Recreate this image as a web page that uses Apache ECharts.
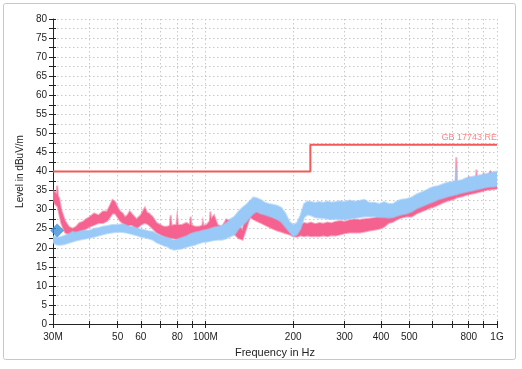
<!DOCTYPE html>
<html>
<head>
<meta charset="utf-8">
<script src="https://cdn.jsdelivr.net/npm/echarts@6/dist/echarts.min.js"></script>
<style>html,body{margin:0;padding:0;background:#fff;}#c{width:522px;height:369px;}</style>
</head>
<body>
<div id="c"></div>
<script>
// Frequency axis ticks (MHz)
const freqTicks = [30,40,50,60,70,80,90,100,200,300,400,500,600,700,800,900,1000];
const freqLabels = [30,50,60,80,100,200,300,400,500,800,1000];
// Limit line GB 17743 RE
const limitFreq = [30, 229, 229, 1000];
const limitLevel = [40, 40, 47, 47];
// Pink trace: [freq MHz, low dBuV/m, high dBuV/m]
const pinkTrace = [
[30,32.5,35],[30.5,31.5,34.5],[30.9,31,34],[31,31,36.3],[31.2,30.5,33.5],[31.5,29,33],[32,26.5,30],[33,24,27],[34,23.5,25.5],[35,23,25],
[36,23.5,25.5],[37,24,26.5],[38,24.5,26.8],[39,25,27.5],[40,25.5,28],[41.5,26,29],[43,26.5,28.5],[44.5,26.5,29.5],
[46,27,29.5],[47,28,31],[48,29,32.5],[49,29,32],[50,28,30.5],[51,27,29.5],[52,26.5,29],[53,26,28],[54,25.5,28.5],[55,26,29.5],[56,26,28.8],
[58,25,27.5],[60,26,28.5],[61,26.3,29.5],[62,26.5,30.5],[63,26.3,29.2],[64,26,29],[66,25,28],[68,24,26.5],[70,23.5,26],[72,23,25.5],
[74,22.5,25.5],[75.5,22.5,25.8],[76,22.5,28.5],[76.5,22.5,25.8],[78,22.5,26],[79.5,22.2,26],[80,22,28],[80.5,22.2,26],
[83,21.8,26],[86,21.6,26.5],[88.5,21.8,26],[89,21.8,28.2],[89.5,21.8,26],[92,21.8,25.5],
[95,21.6,25.5],[97.5,22,25.8],[98,22,26.8],[98.5,22,25.8],[101,22.5,26],[103.5,23,27],[104,23,29.5],[104.5,23,27.5],[107,24,28.5],[110,23.5,26],[114,22.9,25.5],[118,24,27.4],
[122,24.2,27],[126,23.5,26.5],[130,22.5,26],[134,22.1,24.5],[138,25,30],[142,28,32],[146,27.5,31],[150,27,29.5],
[155,26.5,29],[160,26,28.7],[165,25.5,28.5],[170,25,28],[176,24.5,27.5],[182,24.2,27],[188,23.8,26.8],[194,23.5,26],
[200,23,25.5],[206,22.9,25.5],[212,23.2,26],[218,23,26.5],[224,23.2,26.3],[230,23,26.6],[238,23.1,26.2],[246,23,26.5],
[254,23.2,26.3],[262,23,26.6],[270,23.3,26.4],[280,23.2,26.8],[290,23.5,27],[300,23.8,26.8],[312,24,27.2],[325,24,27.4],
[338,24,27.3],[350,24.2,27.5],[365,24.5,27.6],[380,24.7,27.8],[395,25,28.2],[410,25.5,28.7],[425,26.5,29.2],[440,26.8,29.5],
[455,27.5,30.2],[470,27.9,30.5],[490,28.2,31],[510,28.2,31.5],[530,29,32.3],[550,29.5,32.6],[570,30,33.5],[590,30.5,34],
[610,30.8,34.5],[630,31.3,35],[650,31.8,35.5],[670,32.2,35.5],[690,32.5,36],[710,32.8,37],[722,33,37.5],[725,33.2,43.7],
[728,33.2,37.5],[740,33.3,37],[760,33.5,36.5],[780,33.8,37],[800,34,38.5],[825,34.2,37.5],[848,34.4,38],[850,34.4,40.5],
[853,34.5,38],[875,34.7,38],[898,34.9,38.5],[900,35,39.7],[903,35,38.5],[925,35.2,38.5],[950,35.3,40],[975,35.4,39],[1000,35.5,39]
];
// Blue trace: [freq MHz, low dBuV/m, high dBuV/m]
const blueTrace = [
[30,21.3,23],[31,20.8,22.6],[32,20.8,22.8],[33,21,23.2],[34,21.3,23.6],[35,21.6,24.2],[36,21.9,24],[37,22.1,24.3],
[38,22.3,24.5],[40,22.6,24.5],[41.5,22.9,25],[43,23.2,25.2],[44.5,23.5,25.5],[46,23.8,25.7],[48,24,26],[50,24.2,26],
[52,24.1,26.2],[54,23.9,25.8],[56,23.6,25.5],[58,23.3,25.2],[60,22.9,24.8],[62,22.7,24.6],[64,22.4,24.3],[66,22.1,24.2],
[68,21.4,23.6],[70,21,23.2],[72,20.6,22.8],[74,20.3,22.6],[76,19.8,22.3],[78,19.5,22],[80,19.6,22.2],[83,19.8,22.6],
[86,20.2,23],[89,20.5,23.6],[92,20.8,24],[95,21.2,24.2],[98,21.5,24.5],[101,21.6,24.7],[104,21.8,25],[107,22,25.3],
[110,22.1,25.5],[114,22.1,25.8],[118,22.5,26.5],[122,23,27.5],[126,23.5,28.2],[130,25,29.5],[134,26,30.5],[138,26.8,31.3],
[142,28,32.2],[146,29,33.2],[150,29.5,33],[155,29,32.5],[160,28.7,31.8],[165,28.3,31.5],[170,28,31.3],[176,27.5,31],
[182,26.8,30.5],[188,25.5,29],[194,24.2,26.8],[200,23,26],[206,23.5,26.5],[212,25,28.5],[218,28,31.5],[224,28.7,32.1],
[230,28.5,32],[238,28,31.8],[246,27.9,32],[254,27.8,31.8],[262,27.6,32.1],[270,27.5,31.9],[280,27.6,32],[290,27.5,32.2],
[300,27.5,32],[312,27.6,32.4],[325,27.8,32.1],[338,28,32.3],[350,28.2,32.6],[365,28.2,31.8],[380,28.2,31.8],[395,28,31.5],
[410,28,32],[425,27.9,31.5],[440,28,31.5],[455,28.4,32.2],[470,28.7,32.6],[490,29,32.8],[510,29.5,33.2],[530,30.3,34],
[550,30.8,34.5],[570,31.3,35],[590,31.8,35.6],[610,32.2,36],[630,32.7,36.2],[650,33,36.6],[670,33.3,37],[690,33.6,37.2],
[710,33.8,37.4],[722,34,37.5],[725,34,41],[728,34,37.5],[740,34.2,37.6],[760,34.4,37.8],[780,34.6,38.2],[800,34.8,38.4],
[825,35,38.6],[850,35.3,38.8],[875,35.5,39],[900,35.7,39.2],[925,35.9,39.4],[950,36,39.6],[975,36,39.8],[1000,36.2,40]
];
// Marker
const markerPoint = [[31, 24.5]];
const limitName = 'GB 17743 RE';

const PINK = '#f6628f';
const PINK_EDGE = 'rgba(246,98,143,0.55)';
const BLUE = '#99c9f7';
const BLUE_EDGE = 'rgba(153,201,247,0.6)';

function fmtFreq(v){
  if (Math.abs(v-30)<0.01) return '30M';
  if (Math.abs(v-100)<0.01) return '100M';
  if (Math.abs(v-1000)<0.01) return '1G';
  return String(Math.round(v));
}

function band(trace, color, edge, z){
  return {
    type:'custom', coordinateSystem:'cartesian2d', z:z, clip:true, silent:true,
    data: trace.map(t=>[t[0], t[1], t[2]]),
    encode:{x:0, y:[1,2]},
    renderItem: function(params, api){
      if (params.dataIndex !== 0) return null;
      const pts = [];
      for (let i=0;i<trace.length;i++) pts.push(api.coord([trace[i][0], trace[i][2]]));
      for (let i=trace.length-1;i>=0;i--) pts.push(api.coord([trace[i][0], trace[i][1]]));
      return {type:'polygon', shape:{points:pts}, style:{fill:color, stroke:edge, lineWidth:2}};
    }
  };
}

const gridLine = {show:true, lineStyle:{color:'#c8c8c8', type:[1.5,2.5], width:1}};
const axisFont = {fontFamily:'Liberation Sans, Arial, sans-serif', fontSize:10, color:'#222'};

const chart = echarts.init(document.getElementById('c'), null, {renderer:'canvas'});
chart.setOption({
  animation:false,
  backgroundColor:'#fff',
  graphic:[{type:'rect', shape:{x:3.5,y:3.5,width:512,height:356, r:2}, style:{fill:'none', stroke:'#c8c8c8', lineWidth:1}, z:-10}],
  grid:{left:53, right:25, top:19, bottom:45},
  xAxis:[{
    type:'log', logBase:10, min:30, max:1000,
    name:'Frequency in Hz', nameLocation:'middle', nameGap:23,
    nameTextStyle:{fontFamily:'Liberation Sans, Arial, sans-serif', fontSize:11, color:'#222'},
    axisLine:{show:true, lineStyle:{color:'#222', width:1}},
    axisTick:{show:true, length:4, inside:false, customValues:freqTicks, lineStyle:{color:'#222'}},
    axisLabel:Object.assign({customValues:freqLabels, formatter:fmtFreq, margin:8}, axisFont),
    splitLine:gridLine
  },{
    type:'log', logBase:10, min:30, max:1000, position:'bottom',
    axisLine:{show:false},
    axisTick:{show:true, length:3, inside:true, customValues:freqTicks, lineStyle:{color:'#222'}},
    axisLabel:{show:false}, splitLine:{show:false}
  }],
  yAxis:[{
    type:'value', min:0, max:80, interval:2.5,
    name:'Level in dBuV/m', nameLocation:'middle', nameGap:19,
    nameTextStyle:{fontFamily:'Liberation Sans, Arial, sans-serif', fontSize:10, color:'#222'},
    axisLine:{show:true, lineStyle:{color:'#222', width:1}},
    axisTick:{show:true, length:4, lineStyle:{color:'#222'}},
    axisLabel:Object.assign({margin:6, formatter:function(v){return (Math.round(v*10)%50===0)?String(v):'';}}, axisFont),
    splitLine:gridLine
  },{
    type:'value', min:0, max:80, interval:2.5, position:'left',
    axisLine:{show:false},
    axisTick:{show:true, length:3, inside:true, lineStyle:{color:'#222'}},
    axisLabel:{show:false}, splitLine:{show:false}
  }],
  series:[
    band(pinkTrace, PINK, PINK_EDGE, 2),
    band(blueTrace, BLUE, BLUE_EDGE, 3),
    {
      type:'line', z:5, symbol:'none', silent:true,
      data: limitFreq.map((f,i)=>[f, limitLevel[i]]),
      lineStyle:{color:'#f25a5a', width:2}
    },
    {
      type:'scatter', z:6, symbolSize:0, silent:true,
      data:[[1000, 47]],
      label:{show:true, position:'top', align:'right', distance:3, formatter:limitName,
        fontFamily:'Liberation Sans, Arial, sans-serif', fontSize:9, color:'#f06a6a'}
    },
    {
      type:'scatter', z:7, symbol:'diamond', symbolSize:[14,14], silent:true, clip:false,
      data:markerPoint, itemStyle:{color:'#3a8fd9'}
    }
  ]
});
</script>
</body>
</html>
